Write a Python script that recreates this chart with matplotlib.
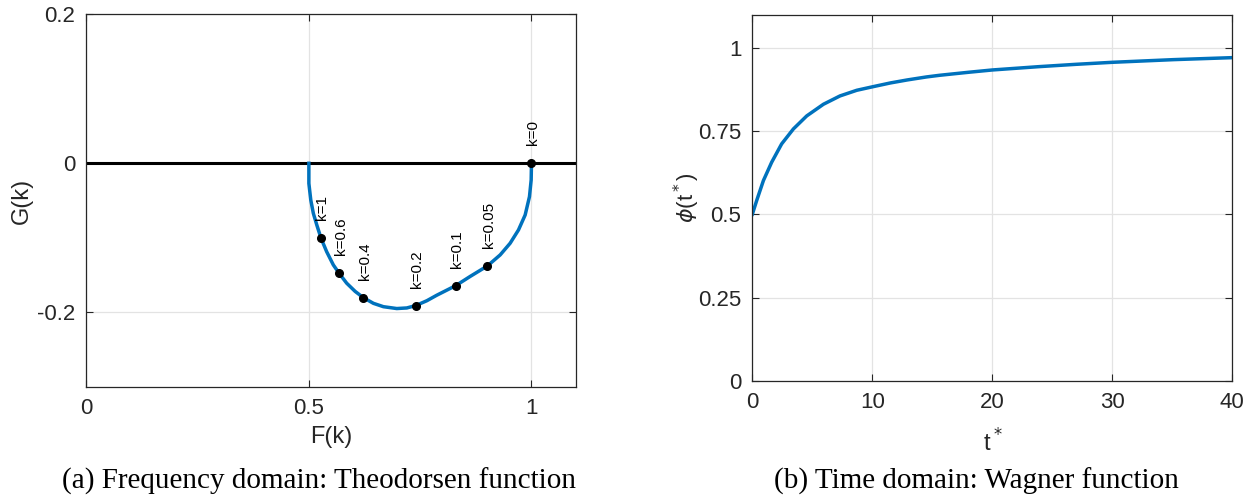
import matplotlib
matplotlib.use("Agg")
import matplotlib.pyplot as plt

# ---- data ----
theo_F = [0.500, 0.500, 0.5043, 0.510, 0.5178, 0.5274, 0.540, 0.555, 0.568, 0.585,
          0.604, 0.6225, 0.645, 0.6674, 0.6975, 0.720, 0.740, 0.765, 0.787, 0.830,
          0.862, 0.901, 0.9297, 0.952, 0.9708, 0.9858, 0.9955, 0.9993, 1.000]
theo_G = [0.0, -0.027, -0.0493, -0.0671, -0.0828, -0.1007, -0.1187, -0.1365, -0.1477, -0.161,
          -0.172, -0.1804, -0.188, -0.1925, -0.195, -0.1942, -0.191, -0.1845, -0.1772, -0.1642,
          -0.152, -0.1378, -0.123, -0.1074, -0.0895, -0.0694, -0.0448, -0.0224, 0.0]

mark_labels = ["k=1", "k=0.6", "k=0.4", "k=0.2", "k=0.1", "k=0.05", "k=0"]
mark_F = [0.5274, 0.568, 0.6225, 0.740, 0.830, 0.901, 1.000]
mark_G = [-0.1007, -0.1477, -0.1804, -0.191, -0.1642, -0.1378, 0.0]

wag_t = [0.0, 0.36, 0.92, 1.61, 2.44, 3.42, 4.53, 5.92, 7.3, 8.7, 10.08, 11.5, 12.9,
         14.5, 15.6, 18.0, 20.0, 23.9, 27.0, 30.0, 35.1, 40.0]
wag_phi = [0.501, 0.542, 0.602, 0.657, 0.712, 0.757, 0.796, 0.831, 0.856, 0.873, 0.884,
           0.895, 0.904, 0.913, 0.918, 0.927, 0.934, 0.944, 0.951, 0.957, 0.965, 0.971]

left_xticks = [0, 0.5, 1]
left_xticklabels = ["0", "0.5", "1"]
left_yticks = [-0.2, 0, 0.2]
left_yticklabels = ["-0.2", "0", "0.2"]
right_xticks = [0, 10, 20, 30, 40]
right_yticks = [0, 0.25, 0.5, 0.75, 1]
right_yticklabels = ["0", "0.25", "0.5", "0.75", "1"]

BLUE = "#0072BD"
DARK = "#262626"
plt.rcParams['font.family'] = ['Liberation Sans', 'DejaVu Sans']
plt.rcParams['mathtext.fontset'] = 'dejavusans'

fig = plt.figure(figsize=(12.5, 5.01), dpi=100)
ax1 = fig.add_axes([0.069, 0.228, 0.3918, 0.7435])
ax2 = fig.add_axes([0.6019, 0.2395, 0.3840, 0.7312])

def style(ax):
    for s in ax.spines.values():
        s.set_color(DARK)
        s.set_linewidth(0.9)
    ax.tick_params(direction='in', length=5, width=0.8, colors=DARK, labelsize=16,
                   top=True, right=True, pad=8)
    ax.grid(True, color='#e3e3e3', linewidth=0.9)
    ax.set_axisbelow(True)

# left panel
style(ax1)
ax1.axhline(0, color='black', linewidth=2.2, zorder=2)
ax1.plot(theo_F, theo_G, color=BLUE, linewidth=2.5, zorder=3, solid_joinstyle='round')
ax1.plot(mark_F, mark_G, 'o', color='black', markersize=5.5, zorder=4)
for lab, f, g in zip(mark_labels, mark_F, mark_G):
    ax1.annotate(lab, (f, g), xytext=(1, 13), textcoords='offset points',
                 rotation=90, ha='center', va='bottom', fontsize=11, color='black')
ax1.set_xlim(0, 1.1)
ax1.set_ylim(-0.3, 0.2)
ax1.set_xticks(left_xticks)
ax1.set_xticklabels(left_xticklabels)
ax1.set_yticks(left_yticks)
ax1.set_yticklabels(left_yticklabels)
ax1.set_xlabel("F(k)", fontsize=17, color=DARK)
ax1.set_ylabel("G(k)", fontsize=17, color=DARK)
ax1.xaxis.set_label_coords(0.5, -0.135)
ax1.xaxis.label.set_va('center')
ax1.yaxis.set_label_coords(-0.131, 0.5)
ax1.yaxis.label.set_va('center')

# right panel
style(ax2)
ax2.plot(wag_t, wag_phi, color=BLUE, linewidth=2.5, solid_joinstyle='round')
ax2.set_xlim(0, 40)
ax2.set_ylim(0, 1.1)
ax2.set_xticks(right_xticks)
ax2.set_yticks(right_yticks)
ax2.set_yticklabels(right_yticklabels)
ax2.set_xlabel(r"t$^*$", fontsize=17, color=DARK)
ax2.set_ylabel(r"$\phi$(t$^*$)", fontsize=16, color=DARK)
ax2.xaxis.set_label_coords(0.5, -0.169)
ax2.xaxis.label.set_va('center')
ax2.yaxis.set_label_coords(-0.137, 0.5)
ax2.yaxis.label.set_va('center')

# captions
fig.text(0.2555, 0.040, "(a) Frequency domain: Theodorsen function", ha='center', va='center',
         fontsize=21, family=['Liberation Serif', 'DejaVu Serif'], color='black')
fig.text(0.7815, 0.040, "(b) Time domain: Wagner function", ha='center', va='center',
         fontsize=21, family=['Liberation Serif', 'DejaVu Serif'], color='black')

fig.savefig("out.png", dpi=100)
